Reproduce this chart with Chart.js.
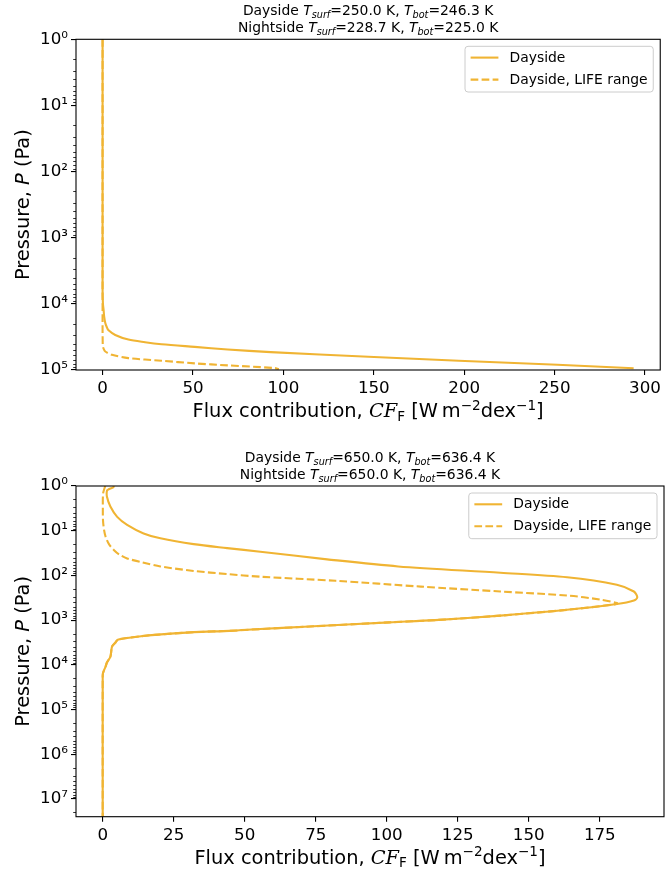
<!DOCTYPE html>
<html>
<head>
<meta charset="utf-8">
<script src="https://cdn.jsdelivr.net/npm/chart.js@4.4.1/dist/chart.umd.min.js"></script>
<style>
  html, body { margin: 0; padding: 0; background: #fff; }
  #wrap { position: relative; width: 665px; height: 873px; }
  canvas { position: absolute; left: 0; }
</style>
</head>
<body>
<div id="wrap">
  <canvas id="chartTop" width="665" height="436" style="top:0px"></canvas>
  <canvas id="chartBottom" width="665" height="437" style="top:436px"></canvas>
</div>
<script>
// series names
var seriesLabels = ['Dayside', 'Dayside, LIFE range'];

// upper panel: Tsurf = 250 K
var topDayTemps = [250.0, 246.3];
var topNightTemps = [228.7, 225.0];
var topDayP    = [1, 1e3, 6.2e3, 1.0e4, 1.23e4, 1.58e4, 1.95e4, 2.24e4, 2.51e4, 2.95e4, 3.47e4, 3.80e4, 4.07e4, 4.47e4, 4.90e4, 5.37e4, 6.31e4, 7.24e4, 8.32e4, 9.4e4];
var topDayFlux = [0, 0, 0, 0.2, 0.55, 0.9, 1.5, 2.3, 3.3, 7, 14.3, 23.5, 32.6, 50.9, 69.2, 93, 147, 197, 251.5, 293.7];
var topLifeP    = [1, 1e4, 4.27e4, 4.79e4, 5.25e4, 5.89e4, 6.61e4, 7.24e4, 7.94e4, 8.51e4, 9.33e4, 9.66e4];
var topLifeFlux = [0, 0, 0.1, 0.6, 1.5, 5.2, 14.3, 32.6, 50.9, 69.2, 94.9, 97.5];
var topPressureTicks = [1e0, 1e1, 1e2, 1e3, 1e4, 1e5];
var topFluxTicks = [0, 50, 100, 150, 200, 250, 300];

// lower panel: Tsurf = 650 K
var botDayTemps = [650.0, 636.4];
var botNightTemps = [650.0, 636.4];
var botDayP    = [1, 1.07, 1.20, 1.27, 1.74, 2.88, 4.9, 7.4, 11.5, 14.8, 20, 24.5, 29.5, 43.7, 63, 87, 110, 162, 229, 309, 363, 437, 589, 794, 1000, 1122, 1413, 1585, 1738, 1862, 2138, 2291, 2512, 2754, 3162, 3890, 6607, 8913, 1.1e4, 1.55e4, 2.0e4, 2.5e7];
var botDayFlux = [4.0, 3.7, 2.0, 1.5, 1.5, 2.7, 5.1, 8.6, 14.4, 20.3, 32, 43.8, 55.5, 79, 104, 140, 163.5, 181, 187, 188.2, 187, 181, 163.5, 140, 117, 101, 71, 55.5, 44.7, 32, 18.4, 13.5, 8.6, 5.3, 4.5, 3.3, 2.7, 1.5, 1.0, 0.1, 0, 0];
var botLifeP    = [1, 1.45, 3.16, 5.75, 8.9, 13.5, 20, 26.9, 33.9, 41.7, 51.3, 63, 79.4, 93.3, 107, 132, 178, 229, 282, 347, 417, 437, 589, 794, 1000, 1122, 1413, 1585, 1738, 1862, 2138, 2291, 2512, 2754, 3162, 3890, 6607, 8913, 1.1e4, 1.55e4, 2.0e4, 2.5e7];
var botLifeFlux = [0.9, 0.15, 0.05, 0.1, 0.4, 1.0, 2.2, 3.9, 5.8, 8.6, 14, 20.3, 32, 43.8, 55.5, 82, 112, 140, 163.5, 175.2, 181.1, 181, 163.5, 140, 117, 101, 71, 55.5, 44.7, 32, 18.4, 13.5, 8.6, 5.3, 4.5, 3.3, 2.7, 1.5, 1.0, 0.1, 0, 0];
var botPressureTicks = [1e0, 1e1, 1e2, 1e3, 1e4, 1e5, 1e6, 1e7];
var botFluxTicks = [0, 25, 50, 75, 100, 125, 150, 175];

var lineColor = '#f0b433';
var FAM = '"DejaVu Sans", sans-serif';

function pairs(ps, fs) {
    return ps.map(function (p, i) { return { x: fs[i], y: p }; });
}

function supDigits(s) {
    var map = { '0': '\u2070', '1': '\u00b9', '2': '\u00b2', '3': '\u00b3', '4': '\u2074', '5': '\u2075', '6': '\u2076', '7': '\u2077', '8': '\u2078', '9': '\u2079', '-': '\u207b' };
    return String(s).split('').map(function (c) { return map[c] || c; }).join('');
}

function tempLine(side, t) {
    var f = '13.9px ' + FAM, fi = 'italic 13.9px ' + FAM, fs = 'italic 9.7px ' + FAM;
    return [
        { t: side + ' ', f: f },
        { t: 'T', f: fi }, { t: 'surf', f: fs, dy: 3 },
        { t: '=' + t[0].toFixed(1) + ' K, ', f: f },
        { t: 'T', f: fi }, { t: 'bot', f: fs, dy: 3 },
        { t: '=' + t[1].toFixed(1) + ' K', f: f }
    ];
}

function richText(ctx, segs, x, y) {
    var w = 0;
    segs.forEach(function (s) { ctx.font = s.f; s.w = ctx.measureText(s.t).width; w += s.w; });
    var cx = x - w / 2;
    ctx.textAlign = 'left';
    ctx.textBaseline = 'alphabetic';
    segs.forEach(function (s) { ctx.font = s.f; ctx.fillText(s.t, cx, y + (s.dy || 0)); cx += s.w; });
}

var xLabelSegs = [
    { t: 'Flux contribution, ', f: '19.4px ' + FAM },
    { t: 'CF', f: 'italic 19.4px "DejaVu Serif", serif' },
    { t: 'F', f: '13.6px ' + FAM, dy: 3.5 },
    { t: ' [W\u2009m', f: '19.4px ' + FAM },
    { t: '\u22122', f: '13.6px ' + FAM, dy: -7.5 },
    { t: 'dex', f: '19.4px ' + FAM },
    { t: '\u22121', f: '13.6px ' + FAM, dy: -7.5 },
    { t: ']', f: '19.4px ' + FAM }
];
var yLabelSegs = [
    { t: 'Pressure, ', f: '19.4px ' + FAM },
    { t: 'P', f: 'italic 19.4px ' + FAM },
    { t: ' (Pa)', f: '19.4px ' + FAM }
];

// frame, minor ticks, titles, axis labels, legend
var panelDecor = {
    id: 'panelDecor',
    afterDraw: function (chart) {
        var o = chart.options.plugins.panelDecor;
        var ctx = chart.ctx, a = chart.chartArea, ys = chart.scales.y;
        ctx.save();
        ctx.strokeStyle = '#000';
        ctx.lineWidth = 1.1;
        ctx.strokeRect(a.left, a.top, a.right - a.left, a.bottom - a.top);

        ctx.lineWidth = 0.8;
        for (var k = 0; k < 9; k++) {
            for (var m = 2; m < 10; m++) {
                var v = m * Math.pow(10, k);
                if (v > ys.max) continue;
                var py = Math.round(ys.getPixelForValue(v)) + 0.5;
                ctx.beginPath();
                ctx.moveTo(a.left, py);
                ctx.lineTo(a.left - 2.8, py);
                ctx.stroke();
            }
        }

        ctx.fillStyle = '#000';
        var cx = (a.left + a.right) / 2;
        richText(ctx, o.title[0], cx, a.top - 24.5);
        richText(ctx, o.title[1], cx, a.top - 7.5);
        richText(ctx, xLabelSegs, cx, a.bottom + 47);

        ctx.save();
        ctx.translate(29, (a.top + a.bottom) / 2);
        ctx.rotate(-Math.PI / 2);
        richText(ctx, yLabelSegs, 0, 0);
        ctx.restore();

        // legend
        ctx.font = '13.9px ' + FAM;
        var tw = 0;
        chart.data.datasets.forEach(function (d) { tw = Math.max(tw, ctx.measureText(d.label).width); });
        var bw = 5.6 + 27.8 + 11.1 + tw + 5.6, bh = 45.7;
        var lx = a.right - 7 - bw, ly = a.top + 7;
        ctx.beginPath();
        ctx.roundRect(lx, ly, bw, bh, 3);
        ctx.fillStyle = 'rgba(255,255,255,0.8)';
        ctx.fill();
        ctx.strokeStyle = '#cccccc';
        ctx.lineWidth = 1;
        ctx.stroke();
        chart.data.datasets.forEach(function (d, i) {
            var ry = ly + 11.3 + i * 22;
            ctx.strokeStyle = d.borderColor;
            ctx.lineWidth = d.borderWidth;
            ctx.setLineDash(d.borderDash || []);
            ctx.beginPath();
            ctx.moveTo(lx + 5.6, ry);
            ctx.lineTo(lx + 5.6 + 27.8, ry);
            ctx.stroke();
            ctx.setLineDash([]);
            ctx.fillStyle = '#000';
            ctx.textAlign = 'left';
            ctx.textBaseline = 'middle';
            ctx.fillText(d.label, lx + 5.6 + 27.8 + 11.1, ry + 0.5);
        });
        ctx.restore();
    }
};

function buildPanel(canvasId, cfg) {
    var ctx = document.getElementById(canvasId).getContext('2d');
    var tickGrid = { display: true, drawOnChartArea: false, drawTicks: true, tickLength: 5, color: '#000', lineWidth: 1.1 };
    return new Chart(ctx, {
        type: 'scatter',
        data: {
            datasets: [{
                label: seriesLabels[0],
                data: pairs(cfg.dayP, cfg.dayFlux),
                borderColor: lineColor,
                borderWidth: 2.1,
                showLine: true,
                tension: 0.3,
                pointRadius: 0,
                fill: false
            }, {
                label: seriesLabels[1],
                data: pairs(cfg.lifeP, cfg.lifeFlux),
                borderColor: lineColor,
                borderWidth: 2.1,
                borderDash: [7.7, 3.3],
                showLine: true,
                tension: 0.3,
                pointRadius: 0,
                fill: false
            }]
        },
        options: {
            responsive: false,
            animation: false,
            devicePixelRatio: 1,
            layout: { autoPadding: false, padding: { top: cfg.padTop, left: 0, right: 1, bottom: 0 } },
            plugins: {
                legend: { display: false },
                tooltip: { enabled: false },
                panelDecor: { title: cfg.title }
            },
            scales: {
                x: {
                    type: 'linear',
                    min: cfg.xMin,
                    max: cfg.xMax,
                    afterFit: function (s) { s.height = cfg.xAxisH; },
                    afterBuildTicks: function (s) { s.ticks = cfg.xTicks.map(function (v) { return { value: v }; }); },
                    grid: tickGrid,
                    border: { display: false },
                    ticks: { color: '#000', padding: 4, maxRotation: 0, autoSkip: false, font: { family: 'DejaVu Sans', size: 16.7 } }
                },
                y: {
                    type: 'logarithmic',
                    reverse: true,
                    min: cfg.pMin,
                    max: cfg.pMax,
                    afterFit: function (s) { s.width = 76; },
                    afterBuildTicks: function (s) { s.ticks = cfg.pTicks.map(function (v) { return { value: v }; }); },
                    grid: tickGrid,
                    border: { display: false },
                    ticks: {
                        color: '#000', padding: 3, autoSkip: false,
                        font: { family: 'DejaVu Sans', size: 16.7 },
                        callback: function (v) { return '10' + supDigits(Math.round(Math.log10(v))); }
                    }
                }
            }
        },
        plugins: [panelDecor]
    });
}

window.onload = function () {
    buildPanel('chartTop', {
        dayP: topDayP, dayFlux: topDayFlux, lifeP: topLifeP, lifeFlux: topLifeFlux,
        title: [tempLine('Dayside', topDayTemps), tempLine('Nightside', topNightTemps)],
        padTop: 39.3, xAxisH: 66,
        xMin: -14.7, xMax: 308.4, xTicks: topFluxTicks,
        pMin: 1, pMax: 1e5, pTicks: topPressureTicks
    });
    buildPanel('chartBottom', {
        dayP: botDayP, dayFlux: botDayFlux, lifeP: botLifeP, lifeFlux: botLifeFlux,
        title: [tempLine('Dayside', botDayTemps), tempLine('Nightside', botNightTemps)],
        padTop: 50, xAxisH: 56.3,
        xMin: -9.4, xMax: 197.6, xTicks: botFluxTicks,
        pMin: 1, pMax: 2.5e7, pTicks: botPressureTicks
    });
};
</script>
</body>
</html>
